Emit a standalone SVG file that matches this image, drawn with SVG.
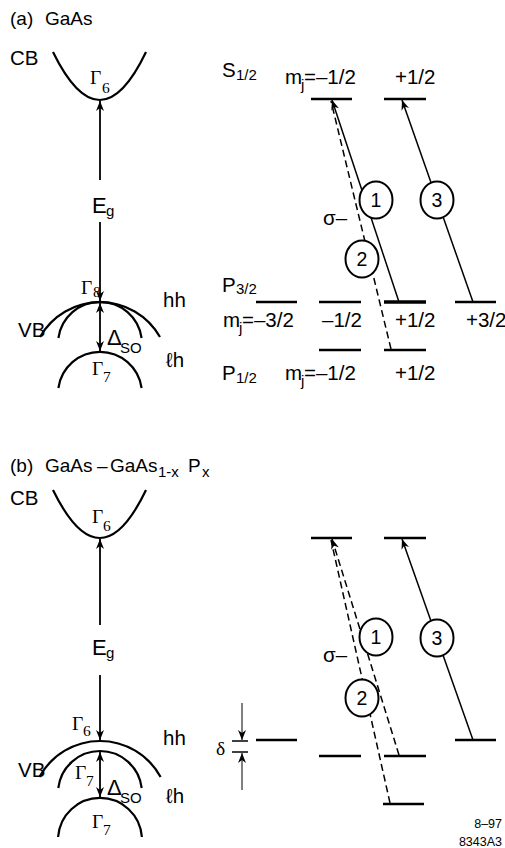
<svg xmlns="http://www.w3.org/2000/svg" width="505" height="848" viewBox="0 0 505 848">
<style>
.t{font-family:"Liberation Sans",Arial,sans-serif;font-size:20.5px;fill:#000}
.h{font-family:"Liberation Sans",Arial,sans-serif;font-size:19px;fill:#000}
.e{font-family:"Liberation Sans",Arial,sans-serif;font-size:22px;fill:#000}
.s{font-family:"Liberation Sans",Arial,sans-serif;font-size:15px;fill:#000}
.g{font-family:"Liberation Serif","Times New Roman",serif;font-size:19.5px;fill:#000}
.gs{font-family:"Liberation Serif","Times New Roman",serif;font-size:15.5px;fill:#000}
.band{fill:none;stroke:#000;stroke-width:2.2}
.lev{stroke:#000;stroke-width:2.5}
.ar{stroke:#000;stroke-width:1.8;fill:none}
.tr{stroke:#000;stroke-width:1.5;fill:none}
.dash{stroke:#000;stroke-width:1.5;fill:none;stroke-dasharray:7 4}
.thin{stroke:#000;stroke-width:1;fill:none}
.circ{fill:#fff;stroke:#000;stroke-width:2}
.num{font-family:"Liberation Sans",Arial,sans-serif;font-size:19.5px;text-anchor:middle}
.foot{font-family:"Liberation Sans",Arial,sans-serif;font-size:12.5px;text-anchor:end}
</style>
<defs>
<marker id="ah" viewBox="0 0 10 8" refX="10" refY="4" markerWidth="11" markerHeight="8" markerUnits="userSpaceOnUse" orient="auto-start-reverse">
<path d="M0,0 L10,4 L0,8 L3,4 Z" fill="#000"/>
</marker>
</defs>

<!-- Panel (a) -->
<g id="title-a"><text class="h" x="10" y="25">(a)</text><text class="h" x="45" y="25">GaAs</text></g>
<g id="cb-a">
<text class="t" x="10" y="65">CB</text>
<path class="band" d="M53,52 Q100,148 146,52"/>
<text class="g" x="90" y="84">Γ</text><text class="gs" x="102" y="93">6</text>
</g>
<g id="eg-a"><text class="e" x="92" y="213">E</text><text class="s" x="106" y="216">g</text></g>
<g id="vb-a">
<text class="g" x="81" y="294">Γ</text><text class="gs" x="93" y="297">8</text>
<text class="t" x="18" y="337">VB</text>
<path class="band" d="M40,337 A69,69 0 0 1 160,337"/>
<path class="band" d="M58.4,338 A42,42 0 0 1 141.6,338"/>
<text class="t" x="163" y="307">hh</text>
<text class="e" x="107" y="345">Δ</text><text class="s" x="120" y="353">SO</text>
<text class="t" x="166" y="367">ℓh</text>
<path class="band" d="M58.4,388 A42,42 0 0 1 141.6,388"/>
<text class="g" x="92" y="375">Γ</text><text class="gs" x="103" y="382">7</text>
</g>

<g id="levels-a">
<text class="t" x="222" y="77">S</text><text class="s" x="236" y="80">1/2</text>
<text class="t" x="285" y="84">m</text><text class="s" x="301" y="90">j</text><text class="t" x="304" y="84">=–1/2</text>
<text class="t" x="395" y="84">+1/2</text>
<line class="lev" x1="311" y1="99" x2="352" y2="99"/>
<line class="lev" x1="384" y1="99" x2="426" y2="99"/>
<text class="t" x="222" y="292">P</text><text class="s" x="236" y="294">3/2</text>
<line class="lev" x1="256" y1="302" x2="297" y2="302"/>
<line class="lev" x1="319" y1="302" x2="361" y2="302"/>
<line class="lev" x1="384" y1="302" x2="426" y2="302" style="stroke-width:3.5"/>
<line class="lev" x1="455" y1="302" x2="496" y2="302"/>
<text class="t" x="223" y="327">m</text><text class="s" x="239" y="333">j</text><text class="t" x="242" y="327">=–3/2</text>
<text class="t" x="322" y="327">–1/2</text>
<text class="t" x="395" y="327">+1/2</text>
<text class="t" x="466" y="327">+3/2</text>
<line class="lev" x1="319" y1="350" x2="361" y2="350"/>
<line class="lev" x1="384" y1="350" x2="426" y2="350"/>
<text class="t" x="222" y="380">P</text><text class="s" x="236" y="383">1/2</text>
<text class="t" x="285" y="380">m</text><text class="s" x="301" y="386">j</text><text class="t" x="304" y="380">=–1/2</text>
<text class="t" x="395" y="380">+1/2</text>
<text class="t" x="323" y="225">σ–</text>
</g>

<!-- Panel (b) -->
<g id="title-b">
<text class="h" x="10" y="472">(b)</text><text class="h" x="45" y="472">GaAs</text><text class="h" x="97" y="472">–</text><text class="h" x="110" y="472">GaAs</text><text class="s" x="158" y="477">1-x</text><text class="h" x="188" y="472">P</text><text class="s" x="202" y="477">x</text>
</g>
<g id="cb-b">
<text class="t" x="10" y="505">CB</text>
<path class="band" d="M53,490 Q100,586 146,490"/>
<text class="g" x="92" y="523">Γ</text><text class="gs" x="103" y="531">6</text>
</g>
<g id="eg-b"><text class="e" x="92" y="655">E</text><text class="s" x="106" y="658">g</text></g>
<g id="vb-b">
<text class="g" x="72" y="730">Γ</text><text class="gs" x="83" y="736">6</text>
<text class="t" x="18" y="777">VB</text>
<path class="band" d="M39.4,777 A69,69 0 0 1 160.6,777"/>
<path class="band" d="M58.3,788 A42,42 0 0 1 141.7,788"/>
<text class="t" x="163" y="745">hh</text>
<text class="g" x="75" y="779">Γ</text><text class="gs" x="86" y="786">7</text>
<text class="e" x="107" y="795">Δ</text><text class="s" x="120" y="803">SO</text>
<text class="t" x="166" y="803">ℓh</text>
<path class="band" d="M58.1,837 A42,42 0 0 1 141.9,837"/>
<text class="g" x="92" y="828">Γ</text><text class="gs" x="103" y="835">7</text>
</g>

<g id="levels-b">
<line class="lev" x1="311" y1="538" x2="352" y2="538"/>
<line class="lev" x1="384" y1="538" x2="426" y2="538"/>
<line class="lev" x1="256" y1="740" x2="297" y2="740"/>
<line class="lev" x1="455" y1="740" x2="496" y2="740"/>
<line class="lev" x1="319" y1="756" x2="361" y2="756"/>
<line class="lev" x1="384" y1="756" x2="426" y2="756"/>
<line class="lev" x1="383" y1="804" x2="424" y2="804"/>
<text class="t" x="323" y="662">σ–</text>
</g>
<g id="delta">
<text class="g" x="216" y="755">δ</text>
<line class="thin" x1="232" y1="741" x2="248" y2="741" style="stroke-width:1.5"/>
<line class="thin" x1="232" y1="752" x2="248" y2="752" style="stroke-width:1.5"/>
</g>

<g id="connectors">
<!-- (a) -->
<line class="ar" x1="100" y1="180" x2="100" y2="101" marker-end="url(#ah)"/>
<line class="ar" x1="100" y1="222" x2="100" y2="301" marker-end="url(#ah)"/>
<line class="ar" x1="100" y1="303" x2="100" y2="351" marker-start="url(#ah)" marker-end="url(#ah)"/>
<line class="tr" x1="399" y1="302" x2="332" y2="100" marker-end="url(#ah)"/>
<line class="dash" x1="391" y1="349" x2="331" y2="101"/>
<line class="tr" x1="473" y1="302" x2="402" y2="100" marker-end="url(#ah)"/>
<!-- (b) -->
<line class="ar" x1="100" y1="625" x2="100" y2="539" marker-end="url(#ah)"/>
<line class="ar" x1="100" y1="675" x2="100" y2="740" marker-end="url(#ah)"/>
<line class="ar" x1="100" y1="752" x2="100" y2="797" marker-start="url(#ah)" marker-end="url(#ah)"/>
<line class="dash" x1="399" y1="755" x2="332" y2="539" marker-end="url(#ah)"/>
<line class="dash" x1="390" y1="803" x2="331" y2="540"/>
<line class="tr" x1="473" y1="740" x2="402" y2="539" marker-end="url(#ah)"/>
<line class="thin" x1="242" y1="703" x2="242" y2="740" marker-end="url(#ah)"/>
<line class="thin" x1="242" y1="790" x2="242" y2="753" marker-end="url(#ah)"/>
</g>

<g id="circle-1a"><ellipse class="circ" cx="376" cy="200" rx="16.5" ry="18.5"/><text class="num" x="376" y="207">1</text></g>
<g id="circle-2a"><ellipse class="circ" cx="362" cy="259" rx="16.5" ry="18.5"/><text class="num" x="362" y="266">2</text></g>
<g id="circle-3a"><ellipse class="circ" cx="437" cy="200" rx="16.5" ry="18.5"/><text class="num" x="437" y="207">3</text></g>
<g id="circle-1b"><ellipse class="circ" cx="376" cy="637" rx="16.5" ry="18.5"/><text class="num" x="376" y="644">1</text></g>
<g id="circle-2b"><ellipse class="circ" cx="362" cy="698" rx="16.5" ry="18.5"/><text class="num" x="362" y="705">2</text></g>
<g id="circle-3b"><ellipse class="circ" cx="437" cy="638" rx="16.5" ry="18.5"/><text class="num" x="437" y="645">3</text></g>

<g id="footer">
<text class="foot" x="502" y="828">8–97</text>
<text class="foot" x="502" y="846">8343A3</text>
</g>
</svg>
